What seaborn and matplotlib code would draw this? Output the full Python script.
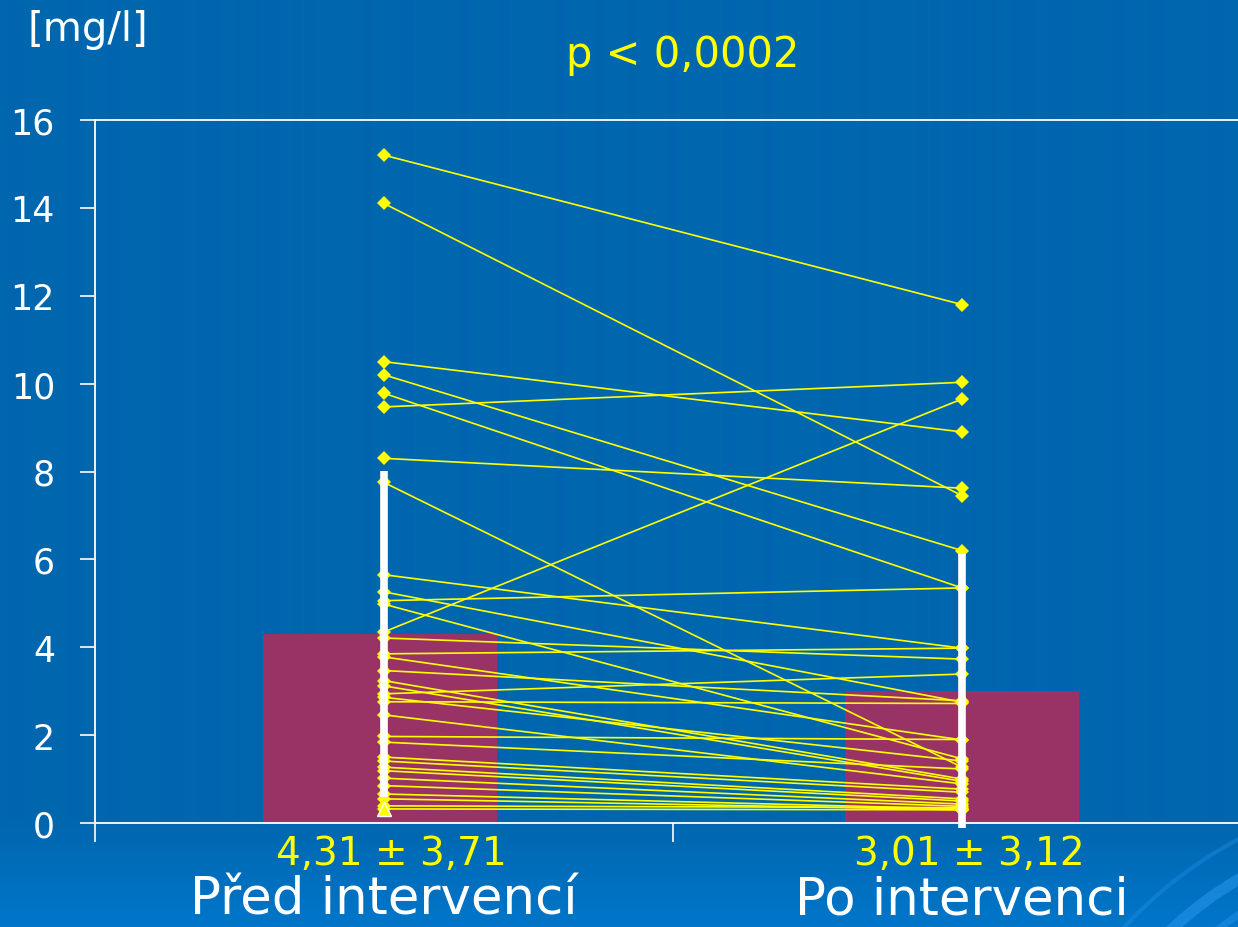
import numpy as np
import pandas as pd
import matplotlib
matplotlib.use("Agg")
import matplotlib.pyplot as plt
import matplotlib.transforms as mtransforms
from matplotlib.patches import Arc
import seaborn as sns

# ---- data -------------------------------------------------------------
categories = ["Před intervencí", "Po intervenci"]
means = [4.31, 3.01]
sds = [3.71, 3.12]
summary_labels = ["4,31 ± 3,71", "3,01 ± 3,12"]
p_label = "p < 0,0002"
unit_label = "[mg/l]"
y_ticks = [0, 2, 4, 6, 8, 10, 12, 14, 16]

# paired measurements per patient (before / after intervention)
before = [15.2, 14.1, 10.5, 10.2, 9.78, 9.47, 8.3, 7.75, 5.65, 5.26, 5.06,
          4.98, 4.35, 4.21, 3.85, 3.78, 3.47, 3.24, 3.12, 2.94, 2.86, 2.76,
          2.46, 1.97, 1.84, 1.5, 1.41, 1.27, 1.19, 1.02, 0.85, 0.66, 0.55,
          0.39, 0.32]
after = [11.8, 7.45, 8.9, 6.2, 5.35, 10.03, 7.62, 1.27, 3.98, 2.75, 5.35,
         1.46, 9.65, 3.73, 3.98, 1.89, 2.78, 1.0, 0.95, 3.39, 1.41, 2.72,
         0.89, 1.9, 1.23, 0.77, 0.7, 0.55, 0.5, 0.43, 0.38, 0.32, 0.3,
         0.35, 0.3]

# ---- colours ----------------------------------------------------------
BG_TOP = "#0066AE"
BG_BOTTOM = "#0076CA"
BAR = "#993366"
YELLOW = "#FFFF00"
WHITE = "#FFFFFF"

W, H = 1238, 928
fig = plt.figure(figsize=(W / 100, H / 100), dpi=100)
plt.rcParams["font.family"] = ["DejaVu Sans"]

# background with a soft lighter band at the bottom and decorative swirls
bg = fig.add_axes([0, 0, 1, 1], zorder=-10)
bg.set_xlim(0, W)
bg.set_ylim(H, 0)
bg.axis("off")
rows = np.linspace(0, 1, H)
t = np.clip((rows * H - 820) / (H - 820), 0, 1)
c0 = np.array(matplotlib.colors.to_rgb(BG_TOP))
c1 = np.array(matplotlib.colors.to_rgb(BG_BOTTOM))
grad = (c0[None, :] * (1 - t[:, None]) + c1[None, :] * t[:, None])[:, None, :]
bg.imshow(grad, extent=[0, W, H, 0], aspect="auto", interpolation="bilinear")
for r, lw, a in [(395, 8, 0.5), (365, 5, 0.4), (430, 3, 0.3)]:
    bg.add_patch(Arc((1440, 1220), 2 * r, 2 * r, theta1=180, theta2=270,
                     color="#2A9BF0", lw=lw, alpha=a))

# ---- main axes --------------------------------------------------------
ax = fig.add_axes([95 / W, 1 - 824 / H, (1251 - 95) / W, (824 - 121) / H])
ax.set_facecolor("none")

sns.barplot(x=categories, y=means, color=BAR, saturation=1, width=0.405,
            errorbar=None, ax=ax, zorder=1)
ax.patches[0].set_x(ax.patches[0].get_x() - 0.007)

long = pd.DataFrame({
    "subject": np.tile(np.arange(len(before)), 2),
    "phase": np.repeat([0, 1], len(before)),
    "value": np.concatenate([before, after]),
})
sns.lineplot(data=long, x="phase", y="value", units="subject", estimator=None,
             color=YELLOW, lw=1.2, marker="D", markersize=7,
             markeredgewidth=0, legend=False, ax=ax, zorder=3)

# mean ± SD as plain white bars
lo = np.array(means) - np.array(sds)
hi = np.array(means) + np.array(sds)
ax.vlines(np.arange(len(means)), lo, hi, colors=WHITE, lw=5.5, zorder=4,
          clip_on=False)
ax.plot(0, min(before), marker="^", color=YELLOW, mec=WHITE, mew=1,
        ms=10, zorder=5, clip_on=False)

ax.set_xlim(-0.5, 1.5)
ax.set_ylim(0, 16)
ax.set_yticks(y_ticks)
ax.set_yticklabels([str(v) for v in y_ticks])
ax.set_xticks([-0.5, 0.5, 1.5])
ax.set_xticklabels([])
ax.set_xlabel("")
ax.set_ylabel("")
ax.tick_params(axis="y", direction="out", length=10.8, width=1.2,
               color=WHITE, labelcolor=WHITE, labelsize=25, pad=18)
ax.tick_params(axis="x", direction="out", length=14, width=1.2, color=WHITE)
for side in ["left", "bottom", "top"]:
    ax.spines[side].set_color(WHITE)
    ax.spines[side].set_linewidth(1.3)
ax.spines["right"].set_visible(False)

# ---- texts ------------------------------------------------------------
blend = mtransforms.blended_transform_factory(ax.transData, fig.transFigure)
for i, (lab, cat) in enumerate(zip(summary_labels, categories)):
    fig.text(i + 0.012, 1 - 865 / H, lab, transform=blend, ha="center",
             va="baseline", color=YELLOW, fontsize=28)
    fig.text(i, 1 - 915 / H, cat, transform=blend, ha="center",
             va="baseline", color=WHITE, fontsize=37)

fig.text(683 / W, 1 - 67 / H, p_label, ha="center", va="baseline",
         color=YELLOW, fontsize=30)
fig.text(27 / W, 1 - 41 / H, unit_label, ha="left", va="baseline",
         color=WHITE, fontsize=29)

fig.savefig("out.png", dpi=100)
